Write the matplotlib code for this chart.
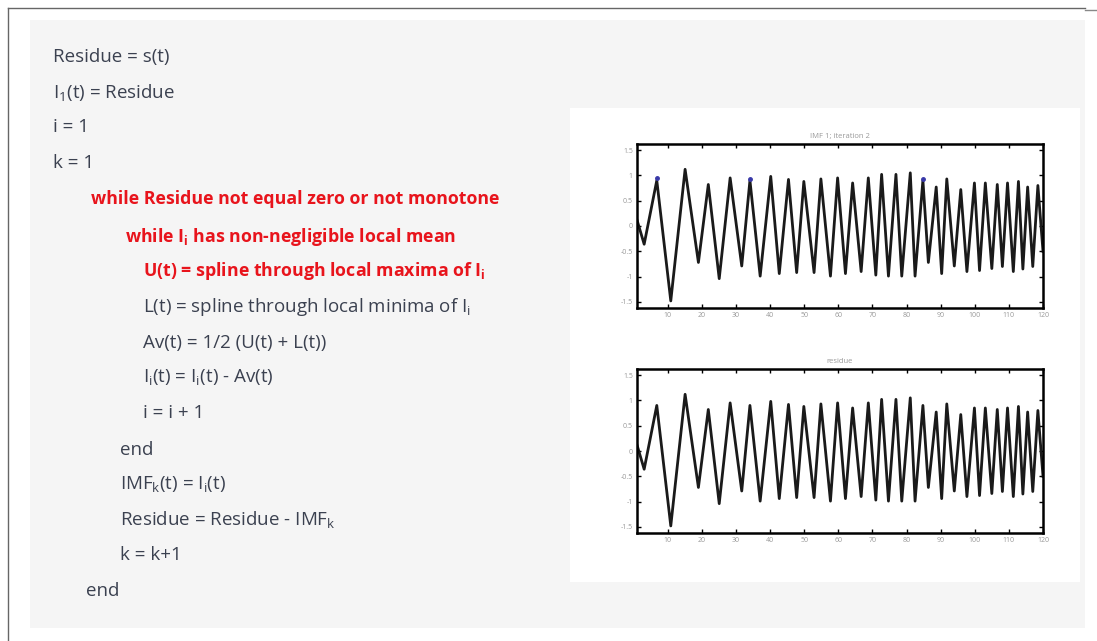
import matplotlib.pyplot as plt
from matplotlib.patches import Rectangle
from matplotlib.lines import Line2D

# extrema of the IMF: time and value
imf_t = [1, 3.1, 6.8, 10.9, 15.1, 19.0, 21.9, 25.1, 28.3, 31.7, 34.1, 37.1,
         40.2, 42.7, 45.4, 47.8, 49.9, 52.9, 54.9, 57.7, 59.8, 62.1, 64.2,
         66.7, 68.8, 71.0, 72.7, 74.7, 76.9, 78.6, 81.1, 82.5, 84.8, 86.4,
         88.7, 90.3, 91.8, 94.0, 95.9, 97.7, 99.9, 101.4, 103.1, 105.0,
         106.6, 108.1, 109.6, 111.3, 112.8, 114.1, 115.5, 117.0, 118.5, 120]
imf_v = [0.12, -0.36, 0.9, -1.48, 1.12, -0.72, 0.82, -1.04, 0.95, -0.79,
         0.9, -0.99, 0.98, -0.94, 0.92, -0.92, 0.88, -0.92, 0.93, -0.99,
         0.95, -0.94, 0.85, -0.9, 0.95, -0.97, 1.02, -0.99, 1.02, -0.99,
         1.05, -0.99, 0.9, -0.72, 0.77, -0.94, 0.93, -0.79, 0.72, -0.9,
         0.85, -0.88, 0.85, -0.84, 0.82, -0.8, 0.85, -0.9, 0.88, -0.85,
         0.77, -0.8, 0.8, -0.5]
# residue looks the same as the IMF in the picture
res_t = imf_t
res_v = imf_v

# blue marks on the first panel
mark_t = [6.8, 34.1, 84.8]
mark_v = [0.95, 0.93, 0.93]

x_ticks = [10, 20, 30, 40, 50, 60, 70, 80, 90, 100, 110, 120]
y_ticks = [-1.5, -1, -0.5, 0, 0.5, 1, 1.5]
y_labels = ['-1.5', '-1', '-0.5', '0', '0.5', '1', '1.5']

code_lines = [
    ('Residue = s(t)', 53, 57, False),
    (r'I$_\mathregular{1}$(t) = Residue', 53, 93, False),
    ('i = 1', 53, 127, False),
    ('k = 1', 53, 163, False),
    ('while Residue not equal zero or not monotone', 91, 199, True),
    (r'while I$_\mathregular{i}$ has non-negligible local mean', 125, 237, True),
    (r'U(t) = spline through local maxima of I$_\mathregular{i}$', 143, 271, True),
    (r'L(t) = spline through local minima of I$_\mathregular{i}$', 143, 307, False),
    ('Av(t) = 1/2 (U(t) + L(t))', 143, 343, False),
    (r'I$_\mathregular{i}$(t) = I$_\mathregular{i}$(t) - Av(t)', 143, 378, False),
    ('i = i + 1', 143, 413, False),
    ('end', 120, 450, False),
    (r'IMF$_\mathregular{k}$(t) = I$_\mathregular{i}$(t)', 120, 485, False),
    (r'Residue = Residue - IMF$_\mathregular{k}$', 120, 520, False),
    ('k = k+1', 120, 555, False),
    ('end', 86, 591, False),
]

W, H = 1097, 641
plt.rcParams['font.family'] = 'Open Sans'
plt.rcParams['mathtext.fontset'] = 'custom'
plt.rcParams['mathtext.rm'] = 'Open Sans'
plt.rcParams['mathtext.bf'] = 'Open Sans:bold'

fig = plt.figure(figsize=(W / 100, H / 100), dpi=100)
fig.patch.set_facecolor('white')


def px(x, y):
    return x / W, 1 - y / H


# light grey slide panel and white area behind the plots
fig.patches.append(Rectangle(px(30, 628), 1055 / W, 608 / H, transform=fig.transFigure,
                             facecolor='#f5f5f5', edgecolor='none', zorder=-10))
fig.patches.append(Rectangle(px(570, 582), 510 / W, 474 / H, transform=fig.transFigure,
                             facecolor='white', edgecolor='none', zorder=-9))
# frame lines
fig.lines.append(Line2D([8 / W, 8 / W], [0, 1 - 8 / H], transform=fig.transFigure,
                        color='#666666', lw=1))
fig.lines.append(Line2D([8 / W, 1085 / W], [1 - 8 / H, 1 - 8 / H], transform=fig.transFigure,
                        color='#666666', lw=1))
fig.lines.append(Line2D([1085 / W, 1097 / W], [1 - 10 / H, 1 - 10 / H], transform=fig.transFigure,
                        color='#888888', lw=1))

for text, x, y, red in code_lines:
    fx, fy = px(x, y)
    if red:
        fig.text(fx, fy, text, color='#e8141c', fontsize=12.8, fontweight='bold',
                 va='center', ha='left')
    else:
        fig.text(fx, fy, text, color='#3b4150', fontsize=13.5, va='center', ha='left')

panels = [
    ([637 / W, 1 - 308 / H, 406 / W, 164 / H], imf_t, imf_v, 'IMF 1; iteration 2', True),
    ([637 / W, 1 - 533 / H, 406 / W, 164 / H], res_t, res_v, 'residue', False),
]
for rect, t, v, title, marks in panels:
    ax = fig.add_axes(rect)
    ax.plot(t, v, color='#1a1a1a', lw=2, solid_joinstyle='round')
    if marks:
        ax.plot(mark_t, mark_v, 'o', color='#3838a8', ms=2.5)
    ax.set_xlim(1, 120)
    ax.set_ylim(-1.62, 1.62)
    ax.set_xticks(x_ticks)
    ax.set_yticks(y_ticks)
    ax.set_yticklabels(y_labels)
    ax.tick_params(direction='in', top=True, right=True, length=3, width=1,
                   labelsize=5, labelcolor='#999999', pad=3)
    for s in ax.spines.values():
        s.set_linewidth(1.8)
    ax.set_title(title, fontsize=5.5, color='#999999', pad=4)

fig.savefig('out.png', dpi=100)
